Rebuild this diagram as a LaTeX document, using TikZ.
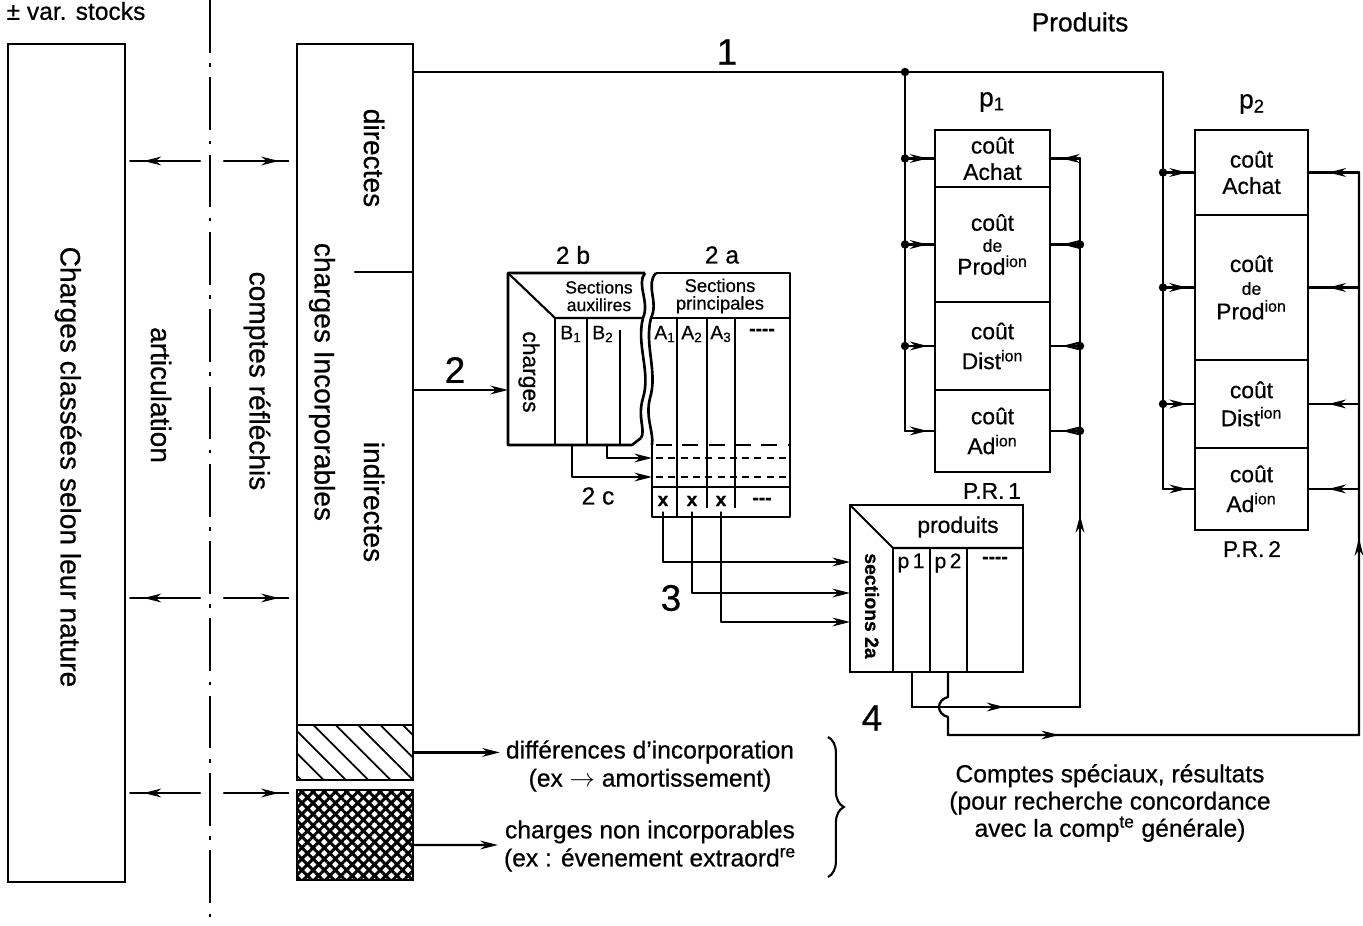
\documentclass[tikz,border=0pt]{standalone}
\usepackage{fontspec}
\setmainfont{Liberation Sans}[FakeBold=0.6]
\usetikzlibrary{arrows.meta,patterns.meta,decorations.markings,decorations.pathreplacing}

\newcommand{\fsz}[2]{\fontsize{#1}{#2}\selectfont}

\tikzset{
  box/.style={draw, line width=1.5pt, inner sep=0pt, outer sep=0pt},
  cell/.style={box, minimum width=2.3cm, align=center, font=\fsz{13}{15}},
  vtext/.style={rotate=-90, font=\fsz{16}{18}},
  wire/.style={line width=1.3pt, line cap=round, line join=round},
  arr/.style={wire, -{Stealth[length=10pt,width=5pt]}},
  midarr/.style={wire, postaction={decorate}, decoration={markings, mark=at position #1 with {\arrow{Stealth[length=10pt,width=5pt]}}}},
  midarr/.default=0.6,
  num/.style={font=\fsz{21}{24}},
}

\begin{document}
\begin{tikzpicture}[x=0.02cm, y=-0.02cm]
\useasboundingbox (0,0) rectangle (1363,926);

% partie gauche
\node[font=\fsz{14}{16}] (stk) at (76,11) {± var. stocks};
\node[box, minimum width=2.34cm, minimum height=16.76cm] (nat) at (66.5,463) {};
\node[vtext] (natT) at (68,467) {Charges classées selon leur nature};
\node[vtext] (artT) at (161,395) {articulation};
\node[vtext] (refT) at (257,381) {comptes réfléchis};
\coordinate (sepT) at (210,0);
\coordinate (sepB) at (210,926);
\draw[line width=1.3pt, dash pattern=on 30pt off 6pt on 2pt off 6pt] (sepT) -- (sepB);

% charges incorporables
\node[box, minimum width=2.32cm, minimum height=13.62cm] (inc) at (355,384.5) {};
\node[box, minimum width=2.32cm, minimum height=1.1cm, anchor=north, pattern={Lines[angle=-45,distance=9pt,line width=1pt]}] (diff) at (inc.south) {};
\node[box, minimum width=2.32cm, minimum height=1.8cm, pattern={Hatch[angle=45,distance=4.5pt,line width=1.7pt]}] (nonc) at (355,835) {};
\node[vtext] (dirT) at (374,158) {directes};
\node[vtext] (incT) at (322,382) {charges Incorporables};
\node[vtext] (indT) at (374,502) {indirectes};
\draw[wire] (355,272) -- (inc.east |- 0,272);

\foreach \y in {161,598,793}{
  \draw[midarr=0.75, shorten >=3pt] (200,\y) -- (nat.east |- 0,\y);
  \draw[midarr=0.75, shorten >=5pt] (224,\y) -- (inc.west |- 0,\y);
}

% produits p1 et p2
\node[cell, minimum height=1.14cm, anchor=north] (p1a) at (992.5,130) {coût\\Achat};
\node[cell, minimum height=2.3cm, anchor=north] (p1b) at (p1a.south) {coût\\[-3pt]{\fsz{10}{10}de}\\[-2pt]Prod\textsuperscript{ion}};
\node[cell, minimum height=1.76cm, anchor=north] (p1c) at (p1b.south) {coût\\[2pt]Dist\textsuperscript{ion}};
\node[cell, minimum height=1.64cm, anchor=north] (p1d) at (p1c.south) {coût\\[2pt]Ad\textsuperscript{ion}};
\node[cell, minimum width=2.26cm, minimum height=1.7cm, anchor=north] (p2a) at (1251.5,130) {coût\\Achat};
\node[cell, minimum width=2.26cm, minimum height=2.9cm, anchor=north] (p2b) at (p2a.south) {coût\\[-2pt]{\fsz{10}{10}de}\\[-1pt]Prod\textsuperscript{ion}};
\node[cell, minimum width=2.26cm, minimum height=1.76cm, anchor=north] (p2c) at (p2b.south) {coût\\[1pt]Dist\textsuperscript{ion}};
\node[cell, minimum width=2.26cm, minimum height=1.64cm, anchor=north] (p2d) at (p2c.south) {coût\\[2pt]Ad\textsuperscript{ion}};
\node[font=\fsz{15}{17}] (lp1) at (992,102) {p\textsubscript{1}};
\node[font=\fsz{15}{17}] (lp2) at (1252,104) {p\textsubscript{2}};
\node[font=\fsz{13}{15}] (pr1) at (992,491) {P.R.\,1};
\node[font=\fsz{13}{15}] (pr2) at (1252,549) {P.R.\,2};
\node[font=\fsz{15}{17}] (prodT) at (1080,22) {Produits};

% 1
\coordinate (j1) at (905,72);
\coordinate (j2) at (1163,72);
\draw[wire] (inc.east |- j1) -- (j2) -- (j2 |- p2d.west) -- (p2d.west);
\draw[wire] (j1) -- (j1 |- p1d.west) -- (p1d.west);
\node[num] (n1) at (727,52) {1};
\foreach \c in {a,b,c,d}{
  \draw[midarr=0.75] (j1 |- p1\c.west) -- (p1\c.west);
  \draw[midarr=0.75] (j2 |- p2\c.west) -- (p2\c.west);
}
\foreach \c in {a,b,c}{
  \fill (j1 |- p1\c.west) circle (2.4pt);
  \fill (j2 |- p2\c.west) circle (2.4pt);
}
\fill (j1) circle (2.4pt);

% sections 2b
\draw[line width=1.5pt, line join=round] (645,273) -- (508,273) -- (508,445) -- (632,445) -- (641,438);
\draw[line width=1.5pt] (645,273) .. controls (636,284) and (650,302) .. (643,318) .. controls (636,345) and (651,372) .. (643,398) .. controls (637,418) and (646,430) .. (641,438);
\draw[line width=1.2pt] (508,273) -- (555,318) -- (643,318);
\draw[line width=1.2pt] (555,318) -- (555,445) (587,318) -- (587,445);
\draw[line width=1pt] (620,330) -- (620,445);
% sections 2a
\draw[line width=1.5pt, line join=round] (656,273) -- (790,273) -- (790,517) -- (652,517) -- (652,445);
\draw[line width=1.5pt] (656,273) .. controls (645,285) and (659,302) .. (651,318) .. controls (644,345) and (658,372) .. (650,398) .. controls (645,418) and (654,432) .. (652,445);
\draw[line width=1.2pt] (651,318) -- (790,318);
\draw[line width=1.2pt] (677,318) -- (677,517) (707,318) -- (707,508) (735,318) -- (735,508);
\draw[line width=1.3pt, dash pattern=on 9pt off 6pt] (656,445) -- (790,445);
\draw[line width=1.3pt, dash pattern=on 4pt off 3pt] (656,458) -- (790,458);
\draw[line width=1.3pt, dash pattern=on 4pt off 3pt] (656,477) -- (790,477);
\draw[line width=1.3pt] (652,487) -- (790,487);

\node[font=\fsz{14}{16}] (l2b) at (573,255) {2 b};
\node[font=\fsz{14}{16}] (l2a) at (722,255) {2 a};
\node[font=\fsz{10}{10}, align=center] (hdb) at (599,296) {Sections\\auxilires};
\node[font=\fsz{10.5}{10}, align=center] (hda) at (720,296) {Sections\\principales};
\node[rotate=-90, font=\fsz{13}{15}] (chg) at (529,372) {charges};
\node[font=\fsz{11}{12}] (b1) at (571,334) {B\textsubscript{1}};
\node[font=\fsz{11}{12}] (b2) at (603,334) {B\textsubscript{2}};
\node[font=\fsz{11}{12}] (a1) at (665,334) {A\textsubscript{1}};
\node[font=\fsz{11}{12}] (a2) at (692,334) {A\textsubscript{2}};
\node[font=\fsz{11}{12}] (a3) at (721,334) {A\textsubscript{3}};
\node[font=\bfseries\fsz{11}{12}] (ad) at (762,332) {{-}{-}{-}{-}};
\foreach \x/\n in {663/1,692/2,721/3}
  \node[font=\bfseries\fsz{11}{12}] (x\n) at (\x,501) {x};
\node[font=\bfseries\fsz{11}{12}] (xd) at (762,501) {{-}{-}{-}};

% 2 et 2c
\coordinate (tbw) at (508,390);
\draw[arr] (inc.east |- tbw) -- (tbw);
\node[num] (n2) at (455,370) {2};
\draw[arr] (572,445) |- (652,477);
\draw[arr] (607,445) |- (652,458);
\node[font=\fsz{14}{16}] (l2c) at (598,496) {2 c};

% produits / sections 2a
\node[box, minimum width=3.46cm, minimum height=3.34cm] (prd) at (936.5,588.5) {};
\draw[line width=1.2pt] (850,505) -- (893,548) -- (1023,548);
\draw[line width=1.2pt] (893,548) -- (893,672) (930,548) -- (930,672) (967,548) -- (967,672);
\node[font=\fsz{13}{15}] (prdT) at (958,527) {produits};
\node[rotate=-90, font=\bfseries\fsz{11}{13}] (secT) at (872,606) {sections 2a};
\node[font=\fsz{12}{14}] (pp1) at (911,563) {p\,1};
\node[font=\fsz{12}{14}] (pp2) at (948,563) {p\,2};
\node[font=\bfseries\fsz{11}{12}] (ppd) at (995,560) {{-}{-}{-}{-}};

% 3
\foreach \n/\y in {1/562,2/593,3/622}
  \draw[arr] (x\n.south) |- (prd.west |- 0,\y);
\node[num] (n3) at (671,598) {3};

% 4
\coordinate (o1) at (912,672);
\coordinate (o2) at (948,672);
\coordinate (r1) at (1080,707);
\coordinate (r2) at (1359,735);
\draw[wire] (o1) -- (o1 |- r1) -- (r1) -- (r1 |- p1a.east) -- (p1a.east);
\draw[midarr=0.55] (o1 |- r1) -- (r1);
\draw[midarr=0.35] (r1) -- (r1 |- p1a.east);
\draw[wire] (o2) -- (948,697) .. controls (936,700) and (936,714) .. (948,717) -- (o2 |- r2) -- (r2) -- (r2 |- p2a.east) -- (p2a.east);
\draw[midarr=0.27] (o2 |- r2) -- (r2);
\draw[midarr=0.35] (r2) -- (r2 |- p2a.east);
\foreach \c in {a,b,c,d}{
  \draw[midarr=0.6] (r1 |- p1\c.east) -- (p1\c.east);
  \draw[midarr=0.6] (r2 |- p2\c.east) -- (p2\c.east);
}
\foreach \c in {b,c,d} \fill (r1 |- p1\c.east) circle (2.4pt);
\node[num] (n4) at (872,718) {4};

% differences et charges non incorporables
\node[font=\fsz{14}{16}, align=center] (dtxt) at (650,766) {différences d'incorporation\\(ex $\rightarrow$ amortissement)};
\node[font=\fsz{14}{16}, align=center] (ntxt) at (650,846) {charges non incorporables\\(ex : évenement extraord\textsuperscript{re}};
\draw[arr] (diff.east) -- (dtxt.west |- diff.east);
\draw[arr] ([yshift=-0.2cm]nonc.east) -- (ntxt.west |- 0,845);
\draw[line width=1.2pt, decorate, decoration={brace, amplitude=9pt}] (828,737) -- (828,877);
\node[font=\fsz{14}{15.5}, align=center] (cpt) at (1110,803) {Comptes spéciaux, résultats\\(pour recherche concordance\\avec la comp\textsuperscript{te} générale)};
\end{tikzpicture}
\end{document}
